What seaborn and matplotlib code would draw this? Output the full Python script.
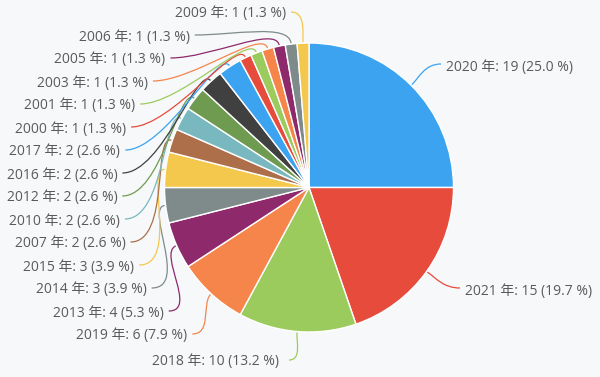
import numpy as np
import seaborn as sns
import matplotlib.pyplot as plt
from matplotlib.path import Path
from matplotlib.patches import PathPatch

# ---- data (clockwise from 12 o'clock) ----
years = ["2020", "2021", "2018", "2019", "2013", "2014", "2015", "2007", "2010",
         "2012", "2016", "2017", "2000", "2001", "2003", "2005", "2006", "2009"]
counts = [19, 15, 10, 6, 4, 3, 3, 2, 2, 2, 2, 2, 1, 1, 1, 1, 1, 1]

base_colors = ["#3ba3f0", "#e64b3b", "#9ccb5d", "#f5854a", "#8e2a6c", "#7f8a8b",
               "#f4c84c", "#ad6f4a", "#7ab8bf", "#6f9b51", "#404040"]

sns.set_theme(style="white")
plt.rcParams["font.family"] = ["Open Sans", "Noto Sans CJK JP", "DejaVu Sans"]

BG = "#f6f8fa"
TXT = "#5a5a5a"
colors = sns.color_palette(base_colors + base_colors[:7])

fig = plt.figure(figsize=(6, 3.77), dpi=100, facecolor=BG)
ax = fig.add_axes([0, 0, 1, 1])
ax.set_facecolor(BG)

H = 377
cx, cy, r = 309, H - 187.5, 144.5
ax.pie(counts, colors=colors, startangle=90, counterclock=False,
       center=(cx, cy), radius=r,
       wedgeprops=dict(edgecolor="white", linewidth=1))
ax.set_xlim(0, 600)
ax.set_ylim(0, H)
ax.set_aspect("equal")
ax.axis("off")

total = sum(counts)
cum = np.cumsum([0] + counts)
mids = [(cum[i] + cum[i + 1]) / 2 / total for i in range(len(counts))]

# label anchors (pixel coords from top): (x, y, ha)
anchors = {}
anchors["2020"] = (446, 67, "left")
anchors["2021"] = (465, 291, "left")
anchors["2018"] = (279, 362, "right")
R = 192
for k, yr in enumerate(years[3:]):
    ypx = 336 - 23 * k
    dy = ypx - 187.5
    xr = cx - np.sqrt(max(R ** 2 - dy ** 2, 0))
    anchors[yr] = (xr, ypx, "right")
anchors["2009"] = (286, 14, "right")

for i, yr in enumerate(years):
    n = counts[i]
    pct = n / total * 100
    label = f"{yr} 年: {n} ({pct:.1f} %)"
    xt, ypx, ha = anchors[yr]
    yt = H - ypx
    ax.text(xt, yt, label, ha=ha, va="center", fontsize=10, color=TXT)

    ang = np.deg2rad(90 - 360 * mids[i])
    ex, ey = cx + (r + 1) * np.cos(ang), cy + (r + 1) * np.sin(ang)
    gap = 10 if yr == "2018" else 5
    if ha == "left":
        sx, sy = xt - gap, yt + 3
    else:
        sx, sy = xt + gap, yt + 2
    dist = np.hypot(ex - sx, ey - sy)
    d1 = min(0.45 * dist, 40)
    d2 = min(0.3 * dist, 20)
    c1 = (sx - d1 if ha == "left" else sx + d1, sy)
    c2 = (ex + d2 * np.cos(ang), ey + d2 * np.sin(ang))
    path = Path([(sx, sy), c1, c2, (ex, ey)],
                [Path.MOVETO, Path.CURVE4, Path.CURVE4, Path.CURVE4])
    ax.add_patch(PathPatch(path, facecolor="none", edgecolor=colors[i], lw=0.9))

fig.savefig("out.png", dpi=100, facecolor=BG)
